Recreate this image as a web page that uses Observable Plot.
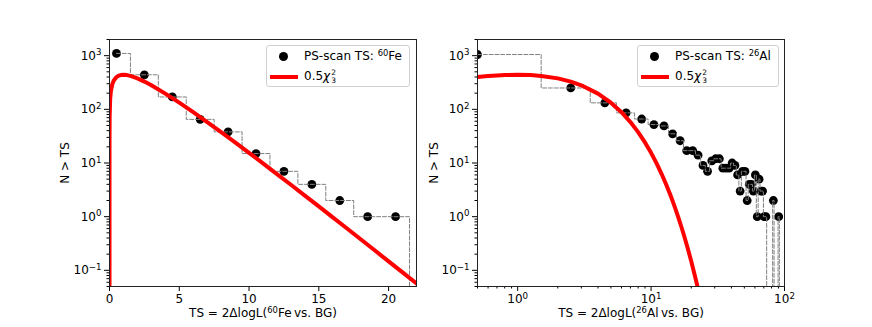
<!DOCTYPE html>
<html><head><meta charset="utf-8">
<script src="https://cdn.jsdelivr.net/npm/d3@7"></script>
<script src="https://cdn.jsdelivr.net/npm/@observablehq/plot@0.6"></script>
<style>
body{margin:0;background:#fff;font-family:"DejaVu Sans",sans-serif;color:#000;}
#fig{position:relative;width:872px;height:327px;overflow:hidden;background:#fff;}
#fig svg{position:absolute;top:0;}
.lab{position:absolute;font-size:12px;white-space:nowrap;line-height:14px;}
.sup{font-size:0.7em;position:relative;top:-0.5em;}
.legend{position:absolute;border:1px solid #d0d0d0;border-radius:3px;background:rgba(255,255,255,0.8);font-size:12px;box-sizing:border-box;}
.legend .mk{position:absolute;width:9px;height:9px;border-radius:50%;background:#000;}
.legend .ln{position:absolute;height:4px;background:#ff0000;}
.legend .tx{position:absolute;white-space:nowrap;line-height:14px;}
.stack{display:inline-flex;flex-direction:column;font-size:0.62em;line-height:1;vertical-align:middle;margin-left:1px;}
</style></head><body><div id="fig"></div>
<script>
// ---- data ----
const feX = [0.5, 2.5, 4.5, 6.5, 8.5, 10.5, 12.5, 14.5, 16.5, 18.5, 20.5, 22.5];
const feN = [1100, 440, 170, 65, 38, 15, 7, 4, 2, 1, 1, 0];

const alX = [0.5, 2.5, 4.5, 6.5, 8.5, 10.5, 12.5, 14.5, 16.5, 18.5, 20.5, 22.5, 24.5, 26.5, 28.5, 30.5,
  32.5, 34.5, 36.5, 38.5, 40.5, 42.5, 44.5, 46.5, 48.5, 50.5, 52.5, 54.5, 56.5, 58.5, 60.5, 62.5,
  64.5, 66.5, 68.5, 70.5, 72.5, 74.5, 76.5, 78.5, 80.5, 82.5, 84.5, 86.5, 88.5, 90.5, 92.5];
const alN = [1050, 250, 132, 86, 66, 52, 49, 35, 26, 17, 17, 14, 9, 7, 11, 12,
  12, 8, 8, 8, 10, 9, 6, 3, 7, 7, 2, 4, 4, 3, 6, 1,
  5, 3, 3, 1, 1, 0, 0, 0, 0, 2, 0, 0, 0, 1, 0];

const chiX = [0, 0.0001, 0.001, 0.01, 0.05, 0.1, 0.2, 0.3, 0.5, 0.6, 0.7, 0.8, 1, 1.25, 1.5, 2, 2.5, 3,
  4, 5, 6, 7, 8, 9, 10, 11, 12, 13, 14, 15, 16, 17, 18, 19, 20, 21, 22, 23];
const chiY = [0, 7.25, 22.9, 72.2, 158.2, 218.2, 293.5, 341.9, 399.4, 416.2, 427.6, 434.8, 439.9, 434.1, 419.6, 377.4, 328.6, 280.3,
  196.3, 133.1, 88.46, 57.95, 37.57, 24.17, 15.45, 9.831, 6.228, 3.932, 2.475, 1.554, 0.9733, 0.6085, 0.3798, 0.2366, 0.1473, 0.09152, 0.05682, 0.03524];

const yMajor = [0.1, 1, 10, 100, 1000];
const feXTicks = [0, 5, 10, 15, 20];
const alXTicks = [1, 10, 100];
const yLabel = "N > TS";
const legendPoint = ["PS-scan TS: ", "60", "Fe"];
const legendPoint2 = ["PS-scan TS: ", "26", "Al"];

// ---- helpers ----
const FLOOR = 1e-3; // zero counts drawn at the bottom (log scale)
function stepsMid(xs, ys) {
  const pts = [];
  let prev = null;
  xs.forEach((x, i) => {
    const y = ys[i] > 0 ? ys[i] : FLOOR;
    if (i === 0) pts.push({x, y});
    else { const m = (xs[i - 1] + x) / 2; pts.push({x: m, y: prev}); pts.push({x: m, y}); }
    prev = y;
  });
  pts.push({x: xs[xs.length - 1], y: prev});
  return pts;
}
const pow = d => `10^${Math.round(Math.log10(d))}`;
const isPow = d => Math.abs(Math.log10(d) - Math.round(Math.log10(d))) < 1e-9;
const yDomain = [0.05, 2000];
const yMinor = d3.scaleLog().domain(yDomain).ticks().filter(d => !isPow(d));
const alXMinor = d3.scaleLog().domain([0.5, 100]).ticks().filter(d => !isPow(d));

const fePts = feX.map((x, i) => ({x, n: feN[i]})).filter(d => d.n > 0);
const alPts = alX.map((x, i) => ({x, n: alN[i]})).filter(d => d.n > 0);
const chi = chiX.map((x, i) => ({x, y: chiY[i] > 0 ? chiY[i] : FLOOR}));

const style = {fontFamily: "DejaVu Sans, sans-serif", fontSize: "12px", background: "transparent", overflow: "visible"};

function supTicks(svg) {
  d3.select(svg).selectAll("g[aria-label$='tick label'] text").each(function () {
    const m = /^10\^(-?\d+)$/.exec(this.textContent);
    if (!m) return;
    const sel = d3.select(this);
    sel.text(null);
    sel.append("tspan").text("10");
    sel.append("tspan").attr("dy", "-0.5em").attr("font-size", "0.72em").text(m[1].replace("-", "\u2212"));
  });
}

const left = Plot.plot({
  width: 436, height: 327,
  marginLeft: 109, marginRight: 20, marginTop: 39, marginBottom: 41,
  style,
  x: {domain: [0, 22], label: null},
  y: {type: "log", domain: yDomain, label: null},
  marks: [
    Plot.dot(fePts, {x: "x", y: "n", r: 4.4, fill: "black", clip: true}),
    Plot.line(stepsMid(feX, feN), {x: "x", y: "y", stroke: "#808080", strokeWidth: 1, strokeDasharray: "4,1.8", clip: true}),
    Plot.line(chi, {x: "x", y: "y", stroke: "#ff0000", strokeWidth: 4, clip: true}),
    Plot.axisX(feXTicks, {tickSize: 5, tickPadding: 3, label: null}),
    Plot.axisY(yMinor, {tickSize: 2.5, tickFormat: () => "", label: null}),
    Plot.axisY(yMajor, {tickSize: 5, tickPadding: 3, tickFormat: pow, label: null}),
    Plot.frame({stroke: "#222", strokeWidth: 1})
  ]
});
left.style.left = "0px";

const right = Plot.plot({
  width: 436, height: 327,
  marginLeft: 41, marginRight: 88, marginTop: 39, marginBottom: 41,
  style,
  x: {type: "log", domain: [0.5, 100], label: null},
  y: {type: "log", domain: yDomain, label: null},
  marks: [
    Plot.dot(alPts, {x: "x", y: "n", r: 4.4, fill: "black", clip: true}),
    Plot.line(stepsMid(alX, alN), {x: "x", y: "y", stroke: "#808080", strokeWidth: 1, strokeDasharray: "4,1.8", clip: true}),
    Plot.line(chi.filter(d => d.x > 0), {x: "x", y: "y", stroke: "#ff0000", strokeWidth: 4, clip: true}),
    Plot.axisX(alXMinor, {tickSize: 2.5, tickFormat: () => "", label: null}),
    Plot.axisX(alXTicks, {tickSize: 5, tickPadding: 3, tickFormat: pow, label: null}),
    Plot.axisY(yMinor, {tickSize: 2.5, tickFormat: () => "", label: null}),
    Plot.axisY(yMajor, {tickSize: 5, tickPadding: 3, tickFormat: pow, label: null}),
    Plot.frame({stroke: "#222", strokeWidth: 1})
  ]
});
right.style.left = "436px";

supTicks(left); supTicks(right);
const fig = document.getElementById("fig");
fig.appendChild(left); fig.appendChild(right);

function addHTML(html) { fig.insertAdjacentHTML("beforeend", html); }
// axis labels
addHTML(`<div class="lab" style="left:65px;top:163px;transform:translate(-50%,-50%) rotate(-90deg);">${yLabel.replace(">", "&gt;")}</div>`);
addHTML(`<div class="lab" style="left:434px;top:163px;transform:translate(-50%,-50%) rotate(-90deg);">${yLabel.replace(">", "&gt;")}</div>`);
addHTML(`<div class="lab" style="left:263px;top:313px;transform:translate(-50%,-50%);">TS = 2ΔlogL(<span class="sup">60</span>Fe&thinsp;vs. BG)</div>`);
addHTML(`<div class="lab" style="left:631px;top:313px;transform:translate(-50%,-50%);">TS = 2ΔlogL(<span class="sup">26</span>Al&thinsp;vs. BG)</div>`);

// legends
function legend(x, w, p) {
  addHTML(`<div class="legend" style="left:${x}px;top:45px;width:${w}px;height:42px;">
    <span class="mk" style="left:12px;top:6px;"></span>
    <span class="tx" style="left:37px;top:3px;">${p[0]}<span class="sup">${p[1]}</span>${p[2]}</span>
    <span class="ln" style="left:3px;top:29px;width:28px;"></span>
    <span class="tx" style="left:37px;top:23px;">0.5<i>χ</i><span class="stack"><span>2</span><span>3</span></span></span>
  </div>`);
}
legend(266, 144, legendPoint);
legend(637, 142, legendPoint2);
</script></body></html>
